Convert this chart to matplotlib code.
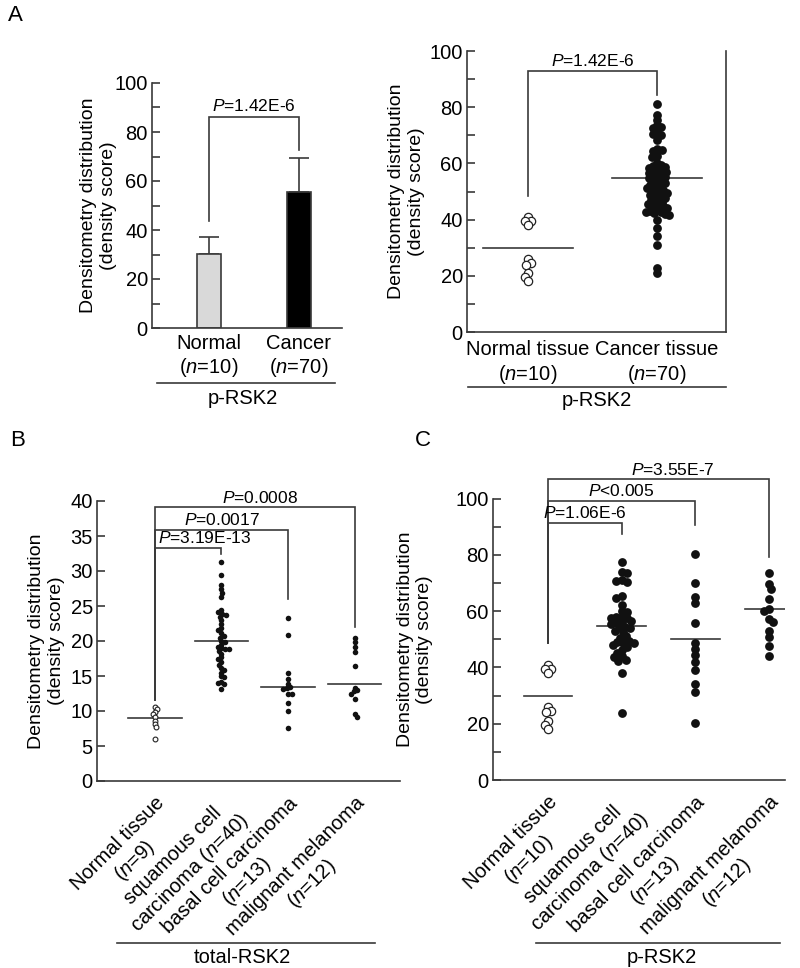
import numpy as np
import matplotlib
matplotlib.use("Agg")
import matplotlib.pyplot as plt
import matplotlib.transforms as mtransforms
from matplotlib.ticker import MultipleLocator

plt.rcParams['font.family'] = ['Liberation Sans', 'DejaVu Sans']
plt.rcParams['mathtext.fontset'] = 'custom'
plt.rcParams['mathtext.rm'] = 'Liberation Sans'
plt.rcParams['mathtext.it'] = 'Liberation Sans:italic'

# ---- data ----
# A left: mean + SD bars
a_bar_labels = ["Normal\n($\\it{n}$=10)", "Cancer\n($\\it{n}$=70)"]
a_bar_means = [30.2, 55.5]
a_bar_sd = [7.0, 14.0]

# p-RSK2 normal tissue (A right and C)
prsk2_normal = [41.0, 39.5, 39.5, 38.0, 26.0, 24.5, 24.0, 21.0, 19.5, 18.0]
# p-RSK2 all cancer tissue (A right)
prsk2_cancer = [81.0, 77.2, 75.4, 73.5, 73.0, 72.5, 71.0, 70.5, 70.0, 68.3,
                65.0, 64.8, 64.5, 62.5, 62.2, 60.1,
                59.5, 59.2, 58.8, 58.5, 58.0,
                57.6, 57.3, 57.0, 56.6, 56.2, 55.8, 55.5, 55.0, 54.8, 54.5,
                54.0, 53.6, 53.2, 52.8, 52.4, 52.0, 51.6, 51.2, 50.8, 50.4, 50.0, 49.6,
                49.2, 48.8, 48.4, 48.0, 47.6, 47.2, 46.8, 46.4, 46.0, 45.6,
                45.2, 44.8, 44.5, 44.0, 43.6, 43.2, 42.8, 42.6, 42.3, 42.0, 41.6,
                40.0, 37.0, 34.0, 31.0, 22.8, 21.0]
a_dot_labels = ["Normal tissue\n($\\it{n}$=10)", "Cancer tissue\n($\\it{n}$=70)"]
a_dot_means = [30.0, 54.8]

# B: total-RSK2
b_labels = ["Normal tissue\n($\\it{n}$=9)", "squamous cell\ncarcinoma ($\\it{n}$=40)",
            "basal cell carcinoma\n($\\it{n}$=13)", "malignant melanoma\n($\\it{n}$=12)"]
b_normal = [10.6, 10.3, 9.9, 9.6, 9.2, 8.6, 8.1, 7.7, 5.95]
b_scc = [31.3, 29.5, 28.0, 27.4, 26.9, 26.3, 24.4, 24.2, 23.9, 23.7, 23.5, 23.0,
         22.4, 21.9, 21.6, 21.1, 20.7, 20.5, 20.0, 19.8, 19.5, 19.2, 19.0, 18.9,
         18.8, 18.6, 18.2, 17.7, 17.4, 17.0, 16.6, 16.2, 15.9, 15.5, 15.0, 14.8,
         14.2, 14.0, 13.9, 13.2]
b_bcc = [23.3, 20.8, 15.5, 14.6, 13.8, 13.4, 13.3, 13.2, 12.5, 12.4, 11.1, 10.0, 7.6]
b_mm = [20.5, 19.8, 19.2, 18.5, 16.4, 13.3, 13.0, 12.8, 12.5, 11.7, 9.6, 9.2]
b_means = [9.0, 20.0, 13.4, 13.9]

# C: p-RSK2 by tumour type
c_labels = ["Normal tissue\n($\\it{n}$=10)", "squamous cell\ncarcinoma ($\\it{n}$=40)",
            "basal cell carcinoma\n($\\it{n}$=13)", "malignant melanoma\n($\\it{n}$=12)"]
c_scc = [77.6, 73.8, 73.5, 71.0, 70.8, 70.5, 65.3, 64.8, 62.2, 60.0, 59.6, 58.0,
         57.8, 57.5, 57.6, 56.5, 56.0, 55.8, 55.5, 54.5, 54.2, 53.9, 53.0, 52.7,
         51.0, 50.5, 49.5, 49.0, 48.8, 48.5, 47.8, 47.4, 46.2, 45.0, 43.9, 43.6,
         42.8, 42.4, 38.1, 23.9]
c_bcc = [80.3, 70.1, 65.1, 63.0, 55.9, 48.5, 46.5, 44.5, 42.0, 39.1, 34.1, 31.2, 20.4]
c_mm = [73.6, 69.5, 67.7, 64.2, 60.6, 60.2, 57.2, 56.2, 53.0, 50.9, 47.6, 44.0]
c_means = [30.0, 54.7, 50.0, 60.6]

# significance brackets: (text, right group, bar height, left leg end, right leg end)
a_bar_pval = ("$\\it{P}$=1.42E-6", 1, 86.1, 43.7, 72.7)
a_dot_pval = ("$\\it{P}$=1.42E-6", 1, 92.9, 48.4, 84.3)
b_pvals = [("$\\it{P}$=3.19E-13", 1, 33.3, 11.6, 32.5),
           ("$\\it{P}$=0.0017", 2, 35.9, 11.6, 26.0),
           ("$\\it{P}$=0.0008", 3, 39.1, 11.6, 22.0)]
c_pvals = [("$\\it{P}$=1.06E-6", 1, 91.4, 48.6, 87.4),
           ("$\\it{P}$<0.005", 2, 99.2, 48.6, 90.6),
           ("$\\it{P}$=3.55E-7", 3, 106.8, 48.6, 79.3)]

YLABEL = "Densitometry distribution\n(density score)"
LINE = '#3a3a3a'
FS = 14.5      # tick / group labels
FS_Y = 14      # y axis title
FS_P = 12.5    # p-value text


def swarm_x(ax, values, center, diam_px):
    """Simple beeswarm: x positions (data units), markers may overlap a bit."""
    p0 = ax.transData.transform((0, 0))
    p1 = ax.transData.transform((1, 1))
    sx, sy = p1 - p0
    ys = np.asarray(values, float) * sy
    xs = np.zeros(len(ys))
    placed = []
    for i in np.argsort(-ys):
        y = ys[i]
        cands = [0.0]
        for px, py in placed:
            dy = abs(py - y)
            if dy < diam_px:
                dx = np.sqrt(diam_px ** 2 - dy ** 2)
                cands += [px + dx, px - dx]
        # keep the swarm balanced: penalise the side that is already heavier
        bal = sum(px for px, _ in placed)
        cands.sort(key=lambda c: abs(c) + (0.6 * diam_px if c * bal > 0 else 0.0))
        for c in cands:
            if all((c - px) ** 2 + (y - py) ** 2 >= diam_px ** 2 - 1e-6 for px, py in placed):
                xs[i] = c
                break
        placed.append((xs[i], y))
    return center + xs / sx


def style_axes(ax, ymax, major, minor=None):
    ax.spines['top'].set_visible(False)
    ax.spines['right'].set_visible(False)
    for s in ('left', 'bottom'):
        ax.spines[s].set_color(LINE)
        ax.spines[s].set_linewidth(1.2)
    ax.set_ylim(0, ymax)
    ax.yaxis.set_major_locator(MultipleLocator(major))
    if minor:
        ax.yaxis.set_minor_locator(MultipleLocator(minor))
    ax.tick_params(axis='y', which='both', direction='in', length=6, width=1.2,
                   color=LINE, labelsize=FS, pad=3)
    ax.tick_params(axis='x', length=0, labelsize=FS)


def bracket(ax, x0, x1, spec, tx=None, ha='center', ty_off=1.0):
    text, _, top, l_end, r_end = spec
    ax.plot([x0, x0, x1, x1], [l_end, top, top, r_end], color=LINE, lw=1.2,
            clip_on=False, solid_joinstyle='miter')
    if tx is None:
        tx = (x0 + x1) / 2
    ax.text(tx, top + ty_off, text, ha=ha, va='bottom', fontsize=FS_P, clip_on=False)


def group_label(ax, x0, x1, y_line, y_text, xt, text):
    ax.plot([x0, x1], [y_line, y_line], color=LINE, lw=1.2, transform=ax.transAxes,
            clip_on=False)
    ax.text(xt, y_text, text, transform=ax.transAxes, ha='center', va='center',
            fontsize=FS)


def rotated_labels(ax, labels, dx_px):
    ax.set_xticks(range(len(labels)))
    ax.set_xticklabels(labels, rotation=45, ha='right', va='top',
                       rotation_mode='anchor', multialignment='center', fontsize=FS)
    off = mtransforms.ScaledTranslation(dx_px / 100, 0, ax.figure.dpi_scale_trans)
    for lab in ax.get_xticklabels():
        lab.set_transform(lab.get_transform() + off)
    ax.tick_params(axis='x', pad=9)


fig = plt.figure(figsize=(8, 9.68), dpi=100)

# ---------- A left: bars ----------
ax1 = fig.add_axes([152 / 800, 1 - 328 / 968, 190 / 800, 245 / 968])
ax1.set_xlim(-0.633, 1.478)
style_axes(ax1, 100, 20, 10)
ax1.bar([0, 1], a_bar_means, width=0.267, color=['#d9d9d9', '#000000'],
        edgecolor=LINE, linewidth=1.2, zorder=2)
ax1.errorbar([0, 1], a_bar_means, yerr=[np.zeros(2), a_bar_sd], fmt='none',
             ecolor=LINE, elinewidth=1.2, capsize=7.5, capthick=1.2, zorder=1)
ax1.set_xticks([0, 1])
ax1.set_xticklabels(a_bar_labels, fontsize=FS)
ax1.tick_params(axis='x', pad=4)
ax1.set_ylabel(YLABEL, fontsize=FS_Y)
ax1.yaxis.set_label_coords(-0.185, 0.5)
bracket(ax1, 0, 1, a_bar_pval, ty_off=1.2)
group_label(ax1, 0.026, 0.963, -0.2245, -0.286, 0.48, "p-RSK2")

# ---------- A right: dots ----------
ax2 = fig.add_axes([467 / 800, 1 - 332 / 968, 259 / 800, 281 / 968])
ax2.set_xlim(-0.473, 1.535)
style_axes(ax2, 100, 20, 10)
ax2.spines['right'].set_visible(True)
ax2.spines['right'].set_color(LINE)
ax2.spines['right'].set_linewidth(1.2)
ax2.scatter(swarm_x(ax2, prsk2_normal, 0, 5.0), prsk2_normal, s=36, facecolor='white',
            edgecolor='#222222', linewidth=0.9, zorder=3)
ax2.scatter(swarm_x(ax2, prsk2_cancer, 1, 4.6), prsk2_cancer, s=40, color='#111111',
            linewidth=0, zorder=3)
for i, m in enumerate(a_dot_means):
    ax2.plot([i - 0.35, i + 0.35], [m, m], color=LINE, lw=1.2, zorder=2)
ax2.set_xticks([0, 1])
ax2.set_xticklabels(a_dot_labels, fontsize=FS)
ax2.tick_params(axis='x', pad=6)
ax2.set_ylabel(YLABEL, fontsize=FS_Y)
ax2.yaxis.set_label_coords(-0.162, 0.5)
bracket(ax2, 0, 1, a_dot_pval, ty_off=0.6)
group_label(ax2, 0.004, 1.0, -0.196, -0.242, 0.5, "p-RSK2")

# ---------- B: total-RSK2 ----------
ax3 = fig.add_axes([97 / 800, 1 - 781 / 968, 303 / 800, 280 / 968])
ax3.set_xlim(-0.872, 3.684)
style_axes(ax3, 40, 5)
ax3.scatter(swarm_x(ax3, b_normal, 0, 3.0), b_normal, s=12, facecolor='white',
            edgecolor='#222222', linewidth=0.8, zorder=3)
for i, vals in enumerate([b_scc, b_bcc, b_mm], start=1):
    ax3.scatter(swarm_x(ax3, vals, i, 3.6), vals, s=16, color='#111111',
                linewidth=0, zorder=3)
for i, m in enumerate(b_means):
    ax3.plot([i - 0.4, i + 0.4], [m, m], color=LINE, lw=1.2, zorder=2)
rotated_labels(ax3, b_labels, -15)
ax3.set_ylabel(YLABEL, fontsize=FS_Y)
ax3.yaxis.set_label_coords(-0.106, 0.5)
bracket(ax3, 0, 1, b_pvals[0], tx=0.04, ha='left', ty_off=0.25)
bracket(ax3, 0, 2, b_pvals[1], ty_off=0.25)
bracket(ax3, 0, 3, b_pvals[2], tx=1.58, ty_off=0.25)
group_label(ax3, 0.066, 0.917, -0.5775, -0.629, 0.479, "total-RSK2")

# ---------- C: p-RSK2 by type ----------
ax4 = fig.add_axes([493 / 800, 1 - 780 / 968, 292 / 800, 281.5 / 968])
ax4.set_xlim(-0.748, 3.22)
style_axes(ax4, 100, 20, 10)
ax4.scatter(swarm_x(ax4, prsk2_normal, 0, 5.0), prsk2_normal, s=36, facecolor='white',
            edgecolor='#222222', linewidth=0.9, zorder=3)
for i, vals in enumerate([c_scc, c_bcc, c_mm], start=1):
    ax4.scatter(swarm_x(ax4, vals, i, 5.4), vals, s=40, color='#111111',
                linewidth=0, zorder=3)
for i, m in enumerate(c_means):
    ax4.plot([i - 0.33, i + 0.33], [m, m], color=LINE, lw=1.2, zorder=2)
rotated_labels(ax4, c_labels, -26)
ax4.set_ylabel(YLABEL, fontsize=FS_Y)
ax4.yaxis.set_label_coords(-0.205, 0.5)
bracket(ax4, 0, 1, c_pvals[0], ty_off=0.6)
bracket(ax4, 0, 2, c_pvals[1], ty_off=0.6)
bracket(ax4, 0, 3, c_pvals[2], tx=1.7, ty_off=0.6)
group_label(ax4, 0.147, 0.983, -0.578, -0.629, 0.579, "p-RSK2")

# panel letters
fig.text(0.019, 0.984, "A", fontsize=16, ha='center', va='center')
fig.text(0.0225, 0.545, "B", fontsize=16, ha='center', va='center')
fig.text(0.529, 0.545, "C", fontsize=16, ha='center', va='center')

fig.savefig("out.png", dpi=100, facecolor='white')
